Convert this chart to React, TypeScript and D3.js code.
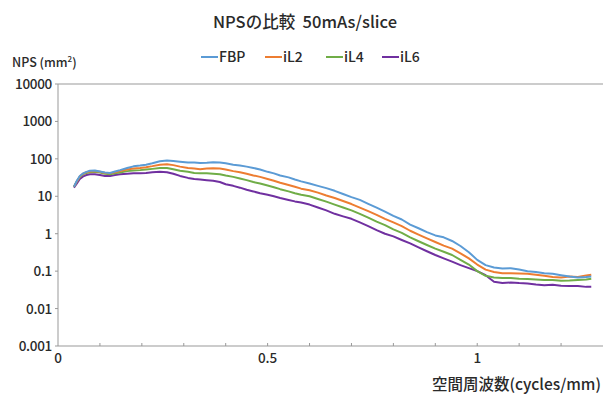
import React from "react";
import * as d3 from "d3";

const freq = [0.038, 0.045, 0.052, 0.06, 0.068, 0.076, 0.088, 0.1, 0.112, 0.124, 0.136, 0.148, 0.165, 0.18, 0.196, 0.21, 0.225, 0.243, 0.26, 0.275, 0.291, 0.31, 0.325, 0.339, 0.355, 0.37, 0.386, 0.4, 0.418, 0.434, 0.45, 0.466, 0.482, 0.5, 0.515, 0.53, 0.55, 0.565, 0.58, 0.6, 0.62, 0.64, 0.66, 0.68, 0.7, 0.72, 0.74, 0.76, 0.78, 0.8, 0.82, 0.84, 0.86, 0.88, 0.9, 0.92, 0.94, 0.96, 0.98, 1.0, 1.02, 1.04, 1.06, 1.08, 1.1, 1.12, 1.14, 1.16, 1.18, 1.2, 1.22, 1.24, 1.26, 1.272];

const fbp = [18, 26, 35, 41, 45, 48, 49, 46, 43, 42, 46, 50, 57, 63, 66, 70, 76, 86, 90, 88, 84, 80, 80, 78, 79, 81, 80, 76, 70, 66, 62, 57, 52, 45, 41, 36, 32, 28, 25, 22, 19, 16.5, 14, 11.5, 9.5, 8, 6.3, 5, 3.9, 3, 2.4, 1.75, 1.4, 1.1, 0.9, 0.8, 0.64, 0.47, 0.32, 0.2, 0.145, 0.125, 0.118, 0.12, 0.11, 0.1, 0.095, 0.088, 0.085, 0.078, 0.072, 0.068, 0.07, 0.072];
const il2 = [18, 25, 34, 40, 44, 46, 47, 45, 42, 41, 44, 47, 52, 55, 57, 60, 64, 70, 72, 68, 62, 57, 55, 53, 55, 56, 55, 52, 47, 44, 40, 36, 33, 29, 26, 23, 20, 18, 16, 14.5, 12.5, 10.5, 9, 7.5, 6.2, 5, 4, 3.2, 2.5, 2, 1.6, 1.2, 0.95, 0.75, 0.6, 0.48, 0.4, 0.3, 0.22, 0.15, 0.11, 0.095, 0.088, 0.088, 0.087, 0.085, 0.08, 0.075, 0.07, 0.068, 0.072, 0.07, 0.077, 0.08];
const il4 = [18, 25, 33, 39, 42, 44, 45, 43, 40, 39, 41, 43, 47, 49, 50, 52, 54, 57, 57, 53, 48, 45, 42, 41, 41, 40, 39, 36, 33, 30, 27, 24, 22, 19.5, 17.5, 15.5, 13.5, 12, 11, 10, 8.5, 7.2, 6, 5, 4.2, 3.4, 2.7, 2.1, 1.7, 1.3, 1.05, 0.8, 0.63, 0.5, 0.4, 0.33, 0.27, 0.2, 0.15, 0.1, 0.075, 0.068, 0.066, 0.066, 0.063, 0.062, 0.06, 0.058, 0.058, 0.055, 0.056, 0.058, 0.06, 0.063];
const il6 = [17, 22, 29, 34, 37, 39, 39, 37, 35, 35, 37, 39, 40, 41, 41, 42, 44, 45, 44, 40, 35, 31, 29, 28, 27, 26, 24, 21, 19, 17, 15, 13.5, 12, 11, 10, 9, 8, 7.3, 6.8, 6, 5, 4.2, 3.4, 2.9, 2.5, 2, 1.6, 1.25, 1, 0.85, 0.68, 0.55, 0.43, 0.34, 0.27, 0.22, 0.18, 0.145, 0.12, 0.1, 0.078, 0.052, 0.048, 0.05, 0.048, 0.047, 0.044, 0.042, 0.043, 0.041, 0.04, 0.04, 0.038, 0.038];

const seriesNames = ["FBP", "iL2", "iL4", "iL6"];
const seriesValues = [fbp, il2, il4, il6];
const seriesColors = ["#5b9bd5", "#ed7d31", "#70ad47", "#7030a0"];

const yTickValues = [10000, 1000, 100, 10, 1, 0.1, 0.01, 0.001];
const yTickLabels = ["10000", "1000", "100", "10", "1", "0.1", "0.01", "0.001"];
const xMinorTicks = [0.1, 0.2, 0.3, 0.4, 0.5, 0.6, 0.7, 0.8, 0.9, 1.0, 1.1, 1.2];
const xLabelValues = [0, 0.5, 1];
const xLabelTexts = ["0", "0.5", "1"];

const FONT = "'Noto Sans CJK JP', 'Noto Sans', sans-serif";

export default function App() {
  const left = 58, top = 84, bottom = 346, right = 603;
  const x = d3.scaleLinear().domain([0, 1.3]).range([left, right]);
  const y = d3.scaleLog().domain([0.001, 10000]).range([bottom, top]);
  const line = d3.line<[number, number]>().x(d => x(d[0])).y(d => y(d[1])).curve(d3.curveLinear);

  const legendX = [201, 265, 326, 382];
  const axisColor = "#999";
  const ink = "#2a2a2a";

  return (
    <svg width={603} height={397} style={{ position: "fixed", left: 0, top: 0, background: "#fff" }} fontFamily={FONT}>
      <rect x={0} y={0} width={603} height={397} fill="#fff" />
      <text x={305} y={28} textAnchor="middle" fontSize={16.5} fontWeight={500} fill={ink}>NPSの比較{"\u00a0\u00a0"}50mAs/slice</text>
      {seriesNames.map((n, i) => (
        <g key={n}>
          <line x1={legendX[i]} x2={legendX[i] + 17} y1={57} y2={57} stroke={seriesColors[i]} strokeWidth={2} />
          <text x={legendX[i] + 18} y={62} fontSize={14} fontWeight={500} fill={ink}>{n}</text>
        </g>
      ))}
      <text x={12} y={67} fontSize={12.5} fontWeight={500} fill={ink}>NPS{"\u00a0"}(mm<tspan fontSize={8} dy={-5}>2</tspan><tspan dy={5}>)</tspan></text>

      <line x1={left} x2={right} y1={top} y2={top} stroke={axisColor} strokeWidth={1} />
      <line x1={left} x2={left} y1={top} y2={bottom} stroke={axisColor} strokeWidth={1} />
      <line x1={left} x2={right} y1={bottom} y2={bottom} stroke={axisColor} strokeWidth={1} />

      {yTickValues.map((v, i) => (
        <g key={v}>
          <line x1={left - 3} x2={left} y1={y(v)} y2={y(v)} stroke={axisColor} />
          <text x={52} y={y(v) + 5} textAnchor="end" fontSize={13.5} fontWeight={500} fill={ink} letterSpacing={-0.3}>{yTickLabels[i]}</text>
        </g>
      ))}
      {xMinorTicks.map(v => (
        <line key={v} x1={x(v)} x2={x(v)} y1={bottom - 3} y2={bottom} stroke={axisColor} />
      ))}
      {xLabelValues.map((v, i) => (
        <text key={v} x={x(v)} y={363} textAnchor="middle" fontSize={13.5} fontWeight={500} fill={ink}>{xLabelTexts[i]}</text>
      ))}
      <text x={601} y={390} textAnchor="end" fontSize={15.5} fontWeight={500} fill={ink}>空間周波数(cycles/mm)</text>

      {seriesValues.map((vals, i) => (
        <path key={i} d={line(freq.map((f, j) => [f, vals[j]] as [number, number])) || ""} fill="none" stroke={seriesColors[i]} strokeWidth={2} strokeLinejoin="round" />
      )).reverse()}
    </svg>
  );
}
